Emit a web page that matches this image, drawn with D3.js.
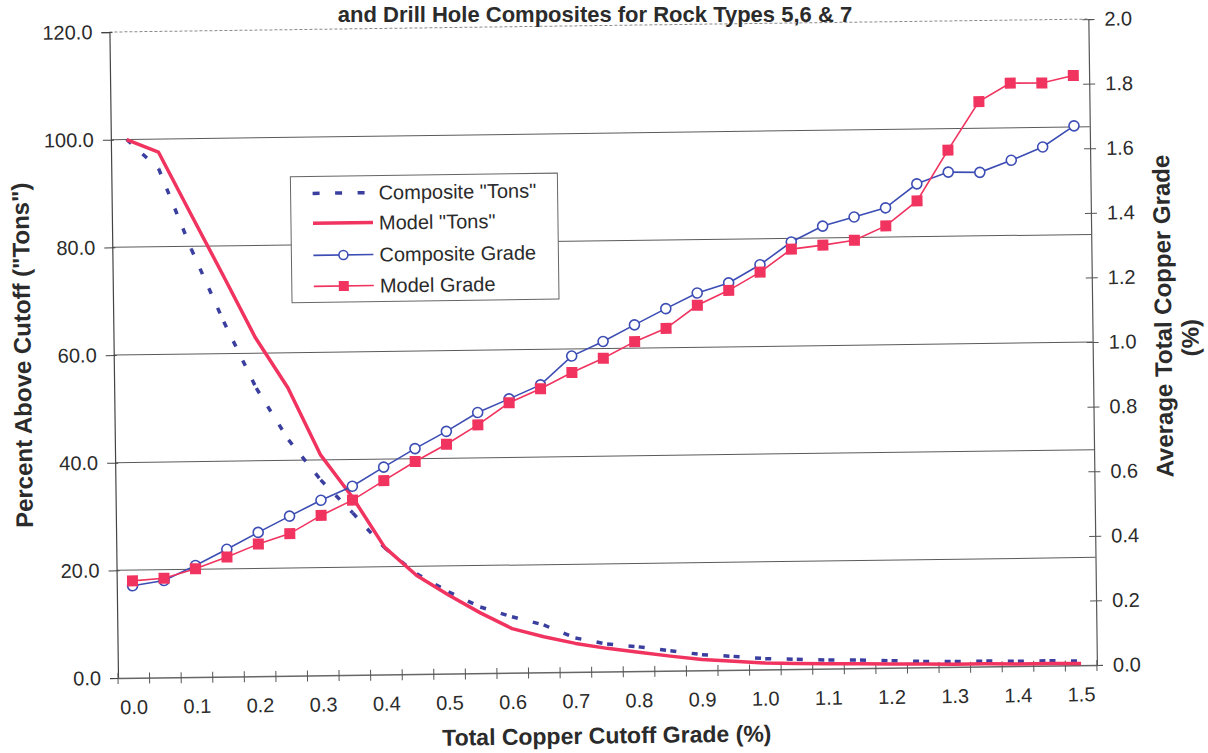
<!DOCTYPE html>
<html>
<head>
<meta charset="utf-8">
<script src="https://cdn.jsdelivr.net/npm/d3@7"></script>
<style>
  html, body { margin: 0; padding: 0; background: #fff; }
  svg { display: block; font-family: "Liberation Sans", Arial, sans-serif; }
</style>
</head>
<body>
<svg id="chart" width="1208" height="753"></svg>
<script>
// Cutoff grades (% Cu) used as categories
const cutoffs = [0.00, 0.05, 0.10, 0.15, 0.20, 0.25, 0.30, 0.35, 0.40, 0.45, 0.50,
                 0.55, 0.60, 0.65, 0.70, 0.75, 0.80, 0.85, 0.90, 0.95, 1.00,
                 1.05, 1.10, 1.15, 1.20, 1.25, 1.30, 1.35, 1.40, 1.45, 1.50];

// Percent of "tons" above each cutoff (left axis)
const compositeTons = [100.0, 94.5, 79.5, 65.9, 53.5, 43.8, 36.3, 30.1, 23.5, 18.6, 15.2,
                       12.3, 10.4, 8.8, 6.3, 5.1, 4.5, 3.7, 2.9, 2.5, 2.0,
                       1.8, 1.6, 1.5, 1.3, 1.1, 1.0, 1.0, 0.9, 0.9, 0.8];
const modelTons = [100.0, 97.6, 86.0, 74.5, 62.8, 53.5, 41.0, 33.0, 23.6, 18.3, 14.6,
                   11.2, 8.2, 6.6, 5.3, 4.3, 3.5, 2.7, 2.0, 1.6, 1.2,
                   1.0, 0.9, 0.8, 0.7, 0.6, 0.5, 0.5, 0.4, 0.4, 0.3];

// Average total copper grade above each cutoff (right axis)
const compositeGrade = [0.285, 0.300, 0.345, 0.394, 0.445, 0.494, 0.542, 0.584, 0.642, 0.698, 0.750,
                        0.807, 0.848, 0.890, 0.978, 1.022, 1.072, 1.121, 1.168, 1.198, 1.253,
                        1.322, 1.370, 1.397, 1.424, 1.497, 1.532, 1.530, 1.566, 1.606, 1.670];
const modelGrade = [0.300, 0.307, 0.335, 0.370, 0.409, 0.440, 0.495, 0.541, 0.600, 0.658, 0.710,
                    0.769, 0.836, 0.878, 0.927, 0.970, 1.020, 1.060, 1.130, 1.175, 1.230,
                    1.300, 1.311, 1.325, 1.368, 1.444, 1.600, 1.749, 1.805, 1.804, 1.826];

// Axis ticks and labels
const xTickLabels = ["0.0", "0.1", "0.2", "0.3", "0.4", "0.5", "0.6", "0.7",
                     "0.8", "0.9", "1.0", "1.1", "1.2", "1.3", "1.4", "1.5"];
const leftTicks = [0, 20, 40, 60, 80, 100, 120];
const rightTicks = [0, 0.2, 0.4, 0.6, 0.8, 1.0, 1.2, 1.4, 1.6, 1.8, 2.0];
const seriesNames = ['Composite "Tons"', 'Model "Tons"', 'Composite Grade', 'Model Grade'];

const titleText = "and Drill Hole Composites for Rock Types 5,6 & 7";
const xTitle = "Total Copper Cutoff Grade (%)";
const yLeftTitle = 'Percent Above Cutoff ("Tons")';
const yRightTitle = ["Average Total Copper Grade", "(%)"];

const BLUE_DASH = "#3a3f9f";
const BLUE = "#3c4db4";
const RED = "#f0335f";
const GRID = "#5a5a5a";
const TEXT = "#2b2b2b";

const frame = { left: 118, right: 1097, top: 32, bottom: 678 };
const tilt = -0.76; // the printed page sits slightly askew

const svg = d3.select("#chart");
const g = svg.append("g")
  .attr("transform", `rotate(${tilt},${frame.left},${frame.bottom})`);

const x = d3.scaleBand().domain(cutoffs).range([frame.left, frame.right]);
const cx = d => x(d) + x.bandwidth() / 2;
const yL = d3.scaleLinear().domain([0, 120]).range([frame.bottom, frame.top]);
const yR = d3.scaleLinear().domain([0, 2]).range([frame.bottom, frame.top]);

// Horizontal gridlines
g.append("g").selectAll("line")
  .data(leftTicks.filter(v => v > 0 && v < 120))
  .join("line")
  .attr("x1", frame.left).attr("x2", frame.right)
  .attr("y1", d => yL(d)).attr("y2", d => yL(d))
  .attr("stroke", GRID).attr("stroke-width", 1);

// Top edge of plot area
g.append("line")
  .attr("x1", frame.left).attr("x2", frame.right)
  .attr("y1", yL(120)).attr("y2", yL(120))
  .attr("stroke", "#8a8a8a").attr("stroke-width", 1)
  .attr("stroke-dasharray", "3,2");

// Left axis
const leftAxis = g.append("g")
  .attr("transform", `translate(${frame.left},0)`)
  .call(d3.axisLeft(yL).tickValues(leftTicks).tickFormat(d3.format(".1f"))
        .tickSize(8).tickPadding(9));
leftAxis.select(".domain").attr("stroke", "#444").attr("stroke-width", 1.2);
leftAxis.selectAll(".tick line").attr("x1", 3).attr("stroke", "#444");
leftAxis.selectAll("text").attr("font-size", 20).attr("fill", TEXT)
  .attr("font-family", "'Liberation Sans', Arial, sans-serif");

// Right axis
const rightAxis = g.append("g")
  .attr("transform", `translate(${frame.right},0)`)
  .call(d3.axisRight(yR).tickValues(rightTicks).tickFormat(d3.format(".1f"))
        .tickSize(6).tickPadding(10));
rightAxis.select(".domain").attr("stroke", "#555").attr("stroke-width", 1.2);
rightAxis.selectAll(".tick line").attr("x1", -6).attr("stroke", "#555");
rightAxis.selectAll("text").attr("font-size", 20).attr("fill", TEXT)
  .attr("font-family", "'Liberation Sans', Arial, sans-serif");

// Bottom axis: labels on every other category, tick marks between categories
const labelled = cutoffs.filter((c, i) => i % 2 === 0);
const bottomAxis = g.append("g")
  .attr("transform", `translate(0,${frame.bottom})`)
  .call(d3.axisBottom(x).tickValues(labelled)
        .tickFormat((d, i) => xTickLabels[i]).tickSize(0).tickPadding(22));
bottomAxis.select(".domain").attr("stroke", "#666").attr("stroke-width", 1.5);
bottomAxis.selectAll("text").attr("font-size", 20).attr("fill", TEXT)
  .attr("font-family", "'Liberation Sans', Arial, sans-serif");
const boundaries = cutoffs.map(c => x(c)).concat([x.range()[1]]);
bottomAxis.append("g").selectAll("line")
  .data(boundaries)
  .join("line")
  .attr("x1", d => d).attr("x2", d => d)
  .attr("y1", -5).attr("y2", 6)
  .attr("stroke", "#555").attr("stroke-width", 1);

// Composite "Tons": dashed, pattern restarting at every vertex
const tonsPts = (arr) => cutoffs.map((c, i) => [cx(c), yL(arr[i])]);
const compTonsPts = tonsPts(compositeTons);
const seg = d3.line();
g.append("g").selectAll("path")
  .data(d3.pairs(compTonsPts))
  .join("path")
  .attr("d", d => seg(d))
  .attr("fill", "none")
  .attr("stroke", BLUE_DASH).attr("stroke-width", 3.5)
  .attr("stroke-dasharray", "6,15.5");

// Model "Tons": thick solid
g.append("path")
  .attr("d", d3.line()(tonsPts(modelTons)))
  .attr("fill", "none")
  .attr("stroke", RED).attr("stroke-width", 3.5)
  .attr("stroke-linejoin", "round");

// Composite Grade: thin line with open circles
const compGradePts = cutoffs.map((c, i) => [cx(c), yR(compositeGrade[i])]);
g.append("path")
  .attr("d", d3.line()(compGradePts))
  .attr("fill", "none").attr("stroke", BLUE).attr("stroke-width", 1.6);
g.append("g").selectAll("circle")
  .data(compGradePts)
  .join("circle")
  .attr("cx", d => d[0]).attr("cy", d => d[1]).attr("r", 5)
  .attr("fill", "#fff").attr("stroke", BLUE).attr("stroke-width", 1.6);

// Model Grade: thin line with filled squares
const modGradePts = cutoffs.map((c, i) => [cx(c), yR(modelGrade[i])]);
g.append("path")
  .attr("d", d3.line()(modGradePts))
  .attr("fill", "none").attr("stroke", RED).attr("stroke-width", 1.6);
g.append("g").selectAll("rect")
  .data(modGradePts)
  .join("rect")
  .attr("x", d => d[0] - 5.5).attr("y", d => d[1] - 5.5)
  .attr("width", 11).attr("height", 11)
  .attr("fill", RED);

// Legend
const legend = g.append("g").attr("transform", "translate(297,179)");
legend.append("rect")
  .attr("width", 267).attr("height", 126)
  .attr("fill", "#fff").attr("stroke", "#666").attr("stroke-width", 1);
const rows = [17, 47, 79, 110];
const sx0 = 22, sx1 = 82, smid = 52;
// Composite "Tons"
legend.append("line").attr("x1", sx0).attr("x2", sx1 - 4)
  .attr("y1", rows[0]).attr("y2", rows[0])
  .attr("stroke", BLUE_DASH).attr("stroke-width", 3.5).attr("stroke-dasharray", "7,15.5");
// Model "Tons"
legend.append("line").attr("x1", sx0).attr("x2", sx1)
  .attr("y1", rows[1]).attr("y2", rows[1])
  .attr("stroke", RED).attr("stroke-width", 3.5);
// Composite Grade
legend.append("line").attr("x1", sx0).attr("x2", sx1)
  .attr("y1", rows[2]).attr("y2", rows[2])
  .attr("stroke", BLUE).attr("stroke-width", 1.6);
legend.append("circle").attr("cx", smid).attr("cy", rows[2]).attr("r", 4.5)
  .attr("fill", "#fff").attr("stroke", BLUE).attr("stroke-width", 1.6);
// Model Grade
legend.append("line").attr("x1", sx0).attr("x2", sx1)
  .attr("y1", rows[3]).attr("y2", rows[3])
  .attr("stroke", RED).attr("stroke-width", 1.6);
legend.append("rect").attr("x", smid - 5).attr("y", rows[3] - 5)
  .attr("width", 10).attr("height", 10).attr("fill", RED);
legend.selectAll("text.lab")
  .data(seriesNames)
  .join("text").attr("class", "lab")
  .attr("x", 88).attr("y", (d, i) => rows[i])
  .attr("dy", "0.35em")
  .attr("font-size", 20).attr("fill", TEXT)
  .text(d => d);

// Axis titles
g.append("text")
  .attr("x", 606).attr("y", 750)
  .attr("text-anchor", "middle")
  .attr("font-size", 23).attr("font-weight", "bold").attr("fill", TEXT)
  .text(xTitle);

g.append("text")
  .attr("transform", "translate(35,354) rotate(-90)")
  .attr("text-anchor", "middle")
  .attr("font-size", 24).attr("font-weight", "bold").attr("fill", TEXT)
  .text(yLeftTitle);

g.append("text")
  .attr("transform", "translate(1176,330) rotate(-90)")
  .attr("text-anchor", "middle")
  .attr("font-size", 24).attr("font-weight", "bold").attr("fill", TEXT)
  .text(yRightTitle[0]);
g.append("text")
  .attr("transform", "translate(1203,352) rotate(-90)")
  .attr("text-anchor", "middle")
  .attr("font-size", 24).attr("font-weight", "bold").attr("fill", TEXT)
  .text(yRightTitle[1]);

// Chart title (kept level so it stays inside the top edge)
svg.append("text")
  .attr("x", 595).attr("y", 22)
  .attr("text-anchor", "middle")
  .attr("font-size", 22).attr("font-weight", "bold").attr("fill", TEXT)
  .text(titleText);
</script>
</body>
</html>
